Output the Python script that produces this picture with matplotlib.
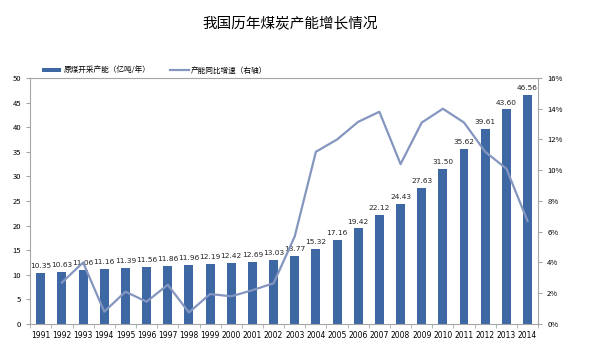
import numpy as np
import matplotlib
matplotlib.use('Agg')
import matplotlib.pyplot as plt
from matplotlib.ticker import FuncFormatter, FixedLocator

plt.rcParams['font.family'] = ['Noto Sans CJK SC', 'DejaVu Sans']

# 数据
years = ['1991', '1992', '1993', '1994', '1995', '1996', '1997', '1998', '1999', '2000',
         '2001', '2002', '2003', '2004', '2005', '2006', '2007', '2008', '2009', '2010',
         '2011', '2012', '2013', '2014']
capacity = [10.35, 10.63, 11.06, 11.16, 11.39, 11.56, 11.86, 11.96, 12.19, 12.42,
            12.69, 13.03, 13.77, 15.32, 17.16, 19.42, 22.12, 24.43, 27.63, 31.50,
            35.62, 39.61, 43.60, 46.56]
growth_years = years[1:]
growth = [2.7, 4.0, 0.8, 2.1, 1.45, 2.55, 0.75, 1.95, 1.8, 2.2,
          2.65, 5.7, 11.2, 12.0, 13.15, 13.8, 10.4, 13.1, 14.0, 13.1,
          11.2, 10.1, 6.7]

bar_color = '#3E68A3'
line_color = '#8496BF'
axis_color = '#A6A6A6'
num_font = ['DejaVu Sans']

fig = plt.figure(figsize=(5.92, 3.61), dpi=100)
ax = fig.add_axes([0.051, 0.1025, 0.858, 0.6815])

x = np.arange(len(years))
ax.bar(x, capacity, width=0.42, color=bar_color, label='原煤开采产能（亿吨/年）', zorder=2)
for xi, v in zip(x, capacity):
    ax.text(xi, v + 0.8, f'{v:.2f}', ha='center', va='bottom', fontsize=5.3,
            color='#222222', family=num_font, zorder=4)

ax.set_xlim(-0.5, len(years) - 0.5)
ax.set_ylim(0, 50)
ax.set_yticks(range(0, 51, 5))
ax.set_xticks(x)
ax.set_xticklabels(years, family=num_font, fontsize=5.5)
ax.xaxis.set_minor_locator(FixedLocator(np.arange(-0.5, len(years), 1)))
ax.tick_params(axis='x', which='major', length=0, pad=5)
ax.tick_params(axis='x', which='minor', length=3, color=axis_color)
ax.tick_params(axis='y', length=3, color=axis_color, labelsize=5.5)
for s in ['left', 'bottom', 'top']:
    ax.spines[s].set_color(axis_color)
    ax.spines[s].set_linewidth(0.8)
ax.spines['right'].set_visible(False)

ax2 = ax.twinx()
gx = np.arange(1, len(years))
ax2.plot(gx, growth, color=line_color, linewidth=1.6, label='产能同比增速（右轴）', zorder=3)
ax2.set_ylim(0, 16)
ax2.set_yticks(range(0, 17, 2))
ax2.yaxis.set_major_formatter(FuncFormatter(lambda v, p: f'{int(v)}%'))
ax2.tick_params(axis='y', length=3, color=axis_color, labelsize=5.5)
for s in ['left', 'bottom', 'top']:
    ax2.spines[s].set_visible(False)
ax2.spines['right'].set_color(axis_color)
ax2.spines['right'].set_linewidth(0.8)

h1, l1 = ax.get_legend_handles_labels()
h2, l2 = ax2.get_legend_handles_labels()
fig.legend(h1 + h2, l1 + l2, loc='center left', bbox_to_anchor=(0.06, 0.805),
           ncol=2, frameon=False, fontsize=5.5, handlelength=2.5, handleheight=0.5,
           columnspacing=2.5, handletextpad=0.3)

fig.text(0.49, 0.935, '我国历年煤炭产能增长情况', ha='center', va='center', fontsize=10.5)

fig.savefig('out.png', dpi=100)
